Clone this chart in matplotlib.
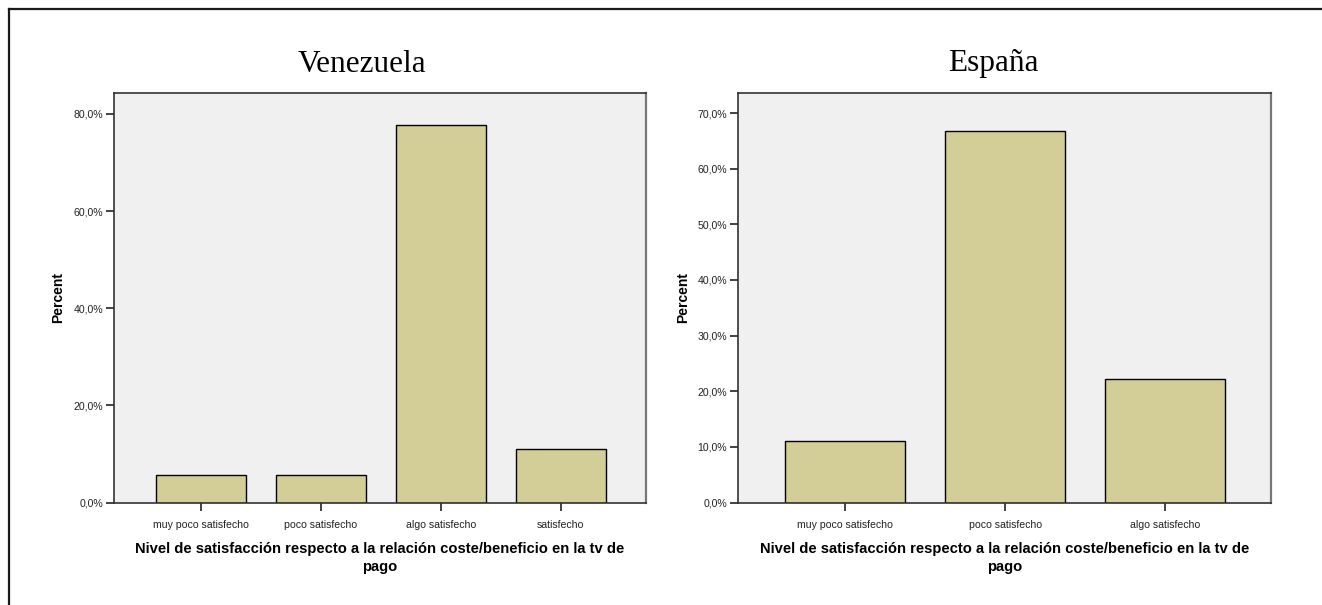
import matplotlib
matplotlib.use("Agg")
import matplotlib.pyplot as plt
from matplotlib.lines import Line2D
from matplotlib.ticker import FuncFormatter

# Survey data: percentage of respondents per satisfaction level
ven_categories = ["muy poco satisfecho", "poco satisfecho", "algo satisfecho", "satisfecho"]
ven_percent = [5.6, 5.6, 77.8, 11.1]
ven_yticks = [0, 20, 40, 60, 80]

esp_categories = ["muy poco satisfecho", "poco satisfecho", "algo satisfecho"]
esp_percent = [11.1, 66.7, 22.2]
esp_yticks = [0, 10, 20, 30, 40, 50, 60, 70]

titles = ["Venezuela", "España"]
xlabel = "Nivel de satisfacción respecto a la relación coste/beneficio en la tv de\npago"
ylabel = "Percent"

W, H = 1322, 605
fig = plt.figure(figsize=(W / 100, H / 100), dpi=100)
fig.patch.set_facecolor("white")

BAR = "#d3ce97"
PANEL = "#f0f0f0"
SANS = ["Liberation Sans", "DejaVu Sans"]
SERIF = ["Liberation Serif", "DejaVu Serif"]


def px_rect(x0, y0, x1, y1):
    return [x0 / W, 1 - y1 / H, (x1 - x0) / W, (y1 - y0) / H]


def pct(v, _):
    return f"{v:.1f}".replace(".", ",") + "%"


def panel(rect, cats, vals, yticks, ymax, xlim, title, title_x, ylabel_x):
    ax = fig.add_axes(px_rect(*rect))
    ax.set_facecolor(PANEL)
    x = list(range(len(cats)))
    ax.bar(x, vals, width=0.75, color=BAR, edgecolor="black", linewidth=1.0, zorder=2)
    ax.set_xlim(*xlim)
    ax.set_ylim(0, ymax)
    ax.set_xticks(x)
    ax.set_xticklabels(cats, fontsize=7.6, family=SANS, color="#222222")
    ax.set_yticks(yticks)
    ax.yaxis.set_major_formatter(FuncFormatter(pct))
    for lab in ax.get_yticklabels():
        lab.set_fontsize(7.6)
        lab.set_family(SANS)
        lab.set_color("#222222")
    ax.tick_params(axis="both", direction="out", length=6, width=1.2, color="#222222", pad=2)
    ax.tick_params(axis="x", pad=6.5)
    for s in ax.spines.values():
        s.set_color("#333333")
        s.set_linewidth(1.2)
    ax.spines["right"].set_color("#777777")
    ax.spines["right"].set_linewidth(1.6)
    ax.set_xlabel(xlabel, fontsize=10.6, fontweight="bold", family=SANS, labelpad=8.5,
                  linespacing=1.35)
    fig.text(ylabel_x / W, 1 - (rect[1] + rect[3]) / 2 / H, ylabel, rotation=90,
             fontsize=10, fontweight="bold", family=SANS, ha="center", va="center")
    fig.text(title_x / W, 1 - 71.5 / H, title, fontsize=22.5, family=SERIF,
             ha="center", va="baseline")
    return ax


panel((114, 93, 646, 502.5), ven_categories, ven_percent, ven_yticks,
      84.3, (-0.725, 3.71), titles[0], 362, 58)
panel((738, 93, 1271, 502.5), esp_categories, esp_percent, esp_yticks,
      73.6, (-0.669, 2.66), titles[1], 993.5, 683)

# Outer frame (top and left edges)
fig.add_artist(Line2D([9 / W, 9 / W], [0, 1 - 8.5 / H], transform=fig.transFigure,
                      color="#1a1a1a", linewidth=1.6))
fig.add_artist(Line2D([9 / W, 1], [1 - 8.5 / H, 1 - 8.5 / H], transform=fig.transFigure,
                      color="#1a1a1a", linewidth=1.6))

fig.savefig("out.png", dpi=100)
